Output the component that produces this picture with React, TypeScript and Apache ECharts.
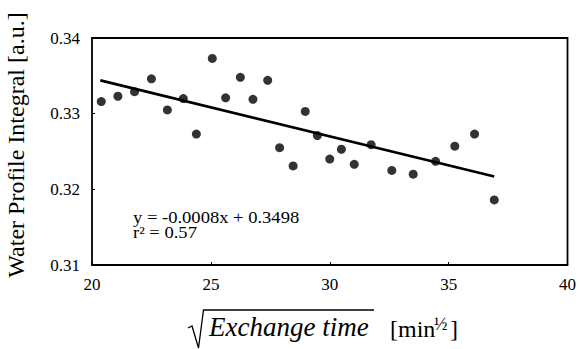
import React, { useEffect, useRef } from "react";
import * as echarts from "echarts";

const xValues = [20.39, 21.09, 21.79, 22.5, 23.17, 23.84, 24.39, 25.06, 25.62, 26.24, 26.77, 27.39, 27.89, 28.46, 28.97, 29.48, 30.0, 30.49, 31.03, 31.74, 32.61, 33.51, 34.45, 35.26, 36.09, 36.92];
const yValues = [0.3316, 0.3323, 0.3329, 0.3346, 0.3305, 0.332, 0.3273, 0.3373, 0.3321, 0.3348, 0.3319, 0.3344, 0.3255, 0.3231, 0.3303, 0.3271, 0.324, 0.3253, 0.3233, 0.3259, 0.3225, 0.322, 0.3237, 0.3257, 0.3273, 0.3186];
const trendX = [20.35, 36.92];
const trendY = [0.3344, 0.3217];
const xTicks = [20, 25, 30, 35, 40];
const yTicks = [0.31, 0.32, 0.33, 0.34];
const equationText = "y = -0.0008x + 0.3498";
const r2Text = "r² = 0.57";
const yTitle = "Water Profile Integral [a.u.]";
const xTitleMain = "Exchange time";

const SERIF = "'Liberation Serif', 'DejaVu Serif', serif";

export default function App() {
  const ref = useRef<HTMLDivElement>(null);
  useEffect(() => {
    if (!ref.current) return;
    const chart = echarts.init(ref.current, undefined, { renderer: "svg" });
    const pts = xValues.map((x, i) => [x, yValues[i]]);
    const trend = trendX.map((x, i) => [x, trendY[i]]);
    chart.setOption({
      animation: false,
      backgroundColor: "#fff",
      grid: {
        left: 92,
        right: 11,
        top: 38,
        bottom: 84,
        show: true,
        borderColor: "#000",
        borderWidth: 1.8,
      },
      xAxis: {
        type: "value",
        min: xTicks[0],
        max: xTicks[xTicks.length - 1],
        interval: 5,
        axisLine: { show: false },
        axisTick: { show: true, inside: true, length: 3, lineStyle: { color: "#000" } },
        splitLine: { show: false },
        axisLabel: { color: "#000", fontFamily: SERIF, fontSize: 17, margin: 11 },
      },
      yAxis: {
        type: "value",
        min: yTicks[0],
        max: yTicks[yTicks.length - 1],
        interval: 0.01,
        axisLine: { show: false },
        axisTick: { show: true, inside: true, length: 3, lineStyle: { color: "#000" } },
        splitLine: { show: false },
        axisLabel: {
          color: "#000",
          fontFamily: SERIF,
          fontSize: 17,
          margin: 12,
          formatter: (v: number) => v.toFixed(2),
        },
      },
      series: [
        {
          type: "scatter",
          data: pts,
          symbol: "circle",
          symbolSize: 9,
          itemStyle: { color: "#000" },
          z: 3,
        },
        {
          type: "line",
          data: trend,
          symbol: "none",
          lineStyle: { color: "#000", width: 2.6 },
          z: 2,
        },
      ],
      graphic: [
        {
          type: "text",
          x: 133,
          y: 218,
          scaleX: 1.16,
          style: { text: equationText, font: `16px ${SERIF}`, fill: "#000", verticalAlign: "middle" },
        },
        {
          type: "text",
          x: 133,
          y: 232.5,
          scaleX: 1.16,
          style: { text: r2Text, font: `16px ${SERIF}`, fill: "#000", verticalAlign: "middle" },
        },
        {
          type: "text",
          x: 16,
          y: 145,
          rotation: Math.PI / 2,
          style: {
            text: yTitle,
            font: `24px ${SERIF}`,
            fill: "#000",
            align: "center",
            verticalAlign: "middle",
          },
        },
        {
          type: "polyline",
          shape: { points: [[188, 328], [192, 326], [198.5, 348], [203.5, 310], [374, 310]] },
          style: { stroke: "#000", lineWidth: 1.3, fill: null },
        },
        {
          type: "text",
          x: 209,
          y: 327,
          style: {
            text: xTitleMain,
            font: `italic 27px ${SERIF}`,
            fill: "#000",
            align: "left",
            verticalAlign: "middle",
          },
        },
        {
          type: "text",
          x: 390,
          y: 329,
          style: { text: "[min", font: `24px ${SERIF}`, fill: "#000", verticalAlign: "middle" },
        },
        {
          type: "text",
          x: 434,
          y: 324,
          style: { text: "½", font: `18px ${SERIF}`, fill: "#000", verticalAlign: "middle" },
        },
        {
          type: "text",
          x: 450,
          y: 329,
          style: { text: "]", font: `24px ${SERIF}`, fill: "#000", verticalAlign: "middle" },
        },
      ],
    });
    return () => chart.dispose();
  }, []);
  return <div ref={ref} style={{ width: 579, height: 349, position: "absolute", left: 0, top: 0 }} />;
}
